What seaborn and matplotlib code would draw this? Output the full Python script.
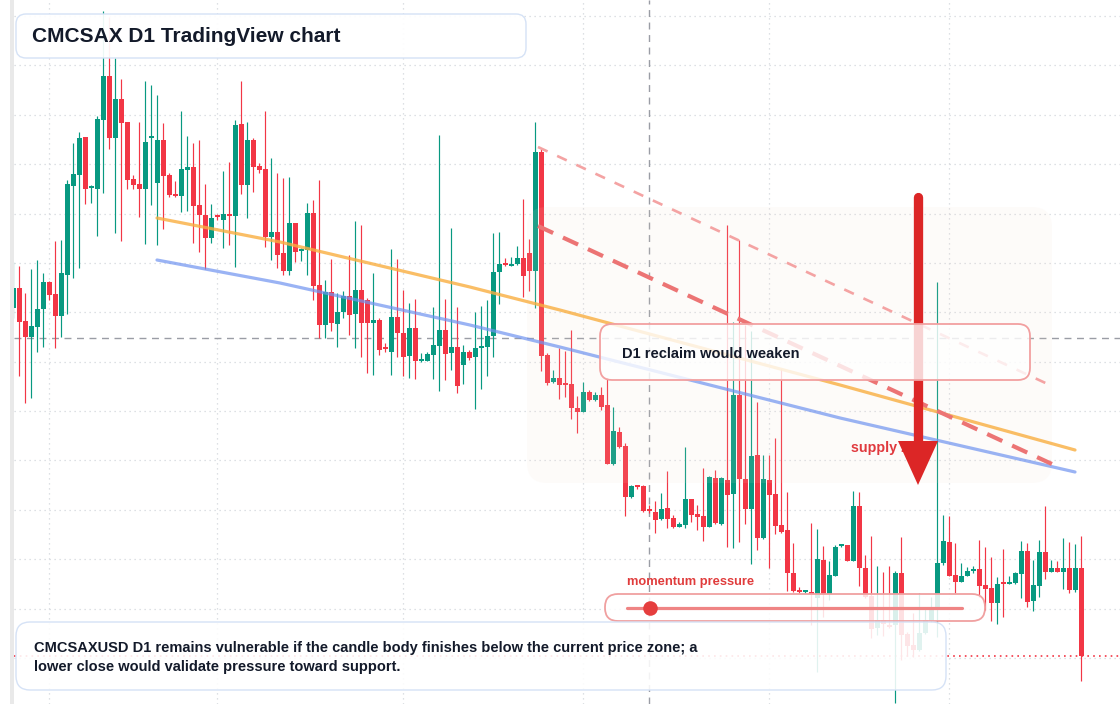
import numpy as np
import pandas as pd
import seaborn as sns
import matplotlib
matplotlib.use("Agg")
from matplotlib import pyplot as plt
from matplotlib import transforms as mtransforms
from matplotlib.patches import FancyBboxPatch, Polygon, Rectangle
from matplotlib.colors import to_rgba

# %% Data (daily candles, arbitrary price units)
opens = [392, 412, 379, 363, 373, 391, 418, 406, 384, 425, 514, 525, 563, 512, 511, 580, 624, 562, 601, 578,
         521, 516, 511, 562, 517, 560, 525, 506, 504, 530, 533, 495, 485, 462, 484, 480, 485, 484, 576, 515,
         560, 534, 531, 463, 468, 447, 429, 477, 449, 450, 487, 415, 375, 408, 376, 388, 404, 386, 410, 400,
         377, 380, 352, 348, 383, 367, 344, 372, 339, 339, 345, 354, 370, 347, 353, 335, 348, 343, 352, 353,
         364, 428, 436, 434, 436, 442, 447, 429, 548, 345, 318, 322, 316, 316, 292, 288, 308, 300, 305, 295,
         236, 268, 254, 203, 214, 214, 190, 188, 181, 192, 182, 173, 175, 201, 186, 184, 173, 222, 176, 220,
         206, 305, 221, 191, 245, 162, 220, 206, 175, 170, 127, 110, 108, 108, 102, 140, 106, 124, 154, 155,
         139, 194, 132, 104, 72, 80, 75, 75, 127, 66, 55, 50, 67, 79, 90, 137, 158, 125, 118, 124,
         129, 131, 115, 112, 97, 117, 116, 117, 126, 149, 99, 114, 148, 128, 132, 128, 132, 110, 132]
highs = [438, 434, 407, 431, 440, 427, 419, 459, 460, 520, 557, 568, 563, 515, 584, 689, 683, 642, 621, 578,
         525, 578, 619, 615, 605, 577, 527, 519, 589, 564, 557, 560, 516, 496, 486, 529, 538, 580, 619, 578,
         562, 537, 589, 542, 527, 522, 523, 477, 452, 497, 500, 520, 420, 441, 407, 409, 445, 479, 475, 402,
         427, 382, 357, 451, 441, 410, 397, 401, 347, 348, 393, 565, 401, 472, 393, 355, 350, 388, 394, 400,
         467, 468, 442, 443, 454, 501, 461, 578, 551, 347, 330, 352, 349, 370, 304, 318, 310, 308, 313, 322,
         293, 273, 257, 215, 215, 215, 195, 199, 207, 229, 185, 178, 253, 201, 195, 232, 224, 230, 223, 475,
         378, 460, 375, 369, 298, 245, 245, 262, 331, 208, 157, 113, 110, 177, 171, 154, 139, 155, 156, 155,
         209, 208, 145, 164, 134, 128, 134, 129, 163, 68, 87, 107, 91, 103, 418, 185, 184, 157, 137, 133,
         134, 160, 153, 143, 123, 151, 124, 128, 159, 157, 140, 160, 194, 140, 139, 162, 158, 156, 164]
lows = [382, 324, 297, 302, 348, 353, 400, 352, 363, 386, 422, 432, 496, 497, 464, 507, 551, 467, 459, 511,
        511, 483, 456, 495, 455, 471, 503, 503, 488, 489, 457, 448, 431, 457, 480, 452, 455, 433, 506, 482,
        508, 527, 453, 440, 432, 425, 425, 438, 439, 425, 400, 362, 362, 369, 353, 382, 365, 352, 343, 327,
        325, 345, 348, 325, 343, 324, 322, 321, 338, 339, 321, 309, 320, 330, 307, 316, 340, 291, 311, 324,
        343, 396, 434, 434, 435, 403, 409, 392, 329, 315, 317, 301, 303, 281, 267, 288, 299, 299, 290, 236,
        235, 252, 184, 202, 211, 188, 187, 167, 180, 172, 172, 173, 172, 178, 170, 159, 173, 176, 175, 153,
        152, 158, 176, 136, 150, 161, 132, 166, 167, 109, 108, 107, 107, 75, 28, 83, 100, 124, 153, 139,
        139, 114, 102, 62, 65, 64, 72, -3, 40, 44, 43, 49, 66, 78, 63, 135, 124, 107, 118, 124,
        127, 103, 90, 79, 76, 83, 116, 116, 102, 93, 89, 103, 121, 128, 128, 111, 107, 108, 19]
closes = [412, 378, 363, 374, 391, 418, 405, 384, 427, 516, 526, 562, 511, 513, 581, 624, 562, 601, 577, 520,
          515, 511, 558, 563, 560, 524, 505, 504, 531, 533, 494, 485, 462, 482, 483, 486, 484, 575, 515, 560,
          533, 530, 463, 468, 445, 429, 477, 448, 450, 487, 414, 375, 408, 377, 388, 404, 385, 410, 377, 377,
          380, 350, 351, 383, 367, 343, 372, 339, 340, 346, 355, 370, 346, 353, 314, 348, 342, 352, 353, 364,
          428, 436, 435, 436, 442, 424, 429, 548, 344, 317, 322, 315, 315, 292, 288, 308, 300, 305, 293, 236,
          269, 253, 203, 214, 213, 189, 189, 180, 191, 181, 173, 176, 201, 185, 183, 173, 223, 177, 222, 205,
          305, 221, 191, 244, 162, 221, 205, 174, 168, 127, 109, 108, 109, 106, 141, 106, 125, 153, 155, 139,
          194, 132, 103, 71, 80, 76, 73, 127, 65, 54, 50, 67, 80, 91, 137, 159, 124, 118, 124, 129,
          131, 114, 111, 97, 116, 116, 117, 127, 149, 98, 115, 148, 128, 132, 128, 132, 110, 132, 44]
first_index = -1

# trend overlays (bar index, price)
orange_x = [22.95, 43.45, 75.1, 90.1, 136.8, 175.95]
orange_y = [482, 458, 413, 390, 315, 250]
blue_x = [22.95, 43.45, 75.1, 90.1, 136.8, 175.95]
blue_y = [440, 417, 375, 353, 282, 228]
upper_dash_x = [86.45, 172.1]
upper_dash_y = [553, 314]
lower_dash_x = [86.45, 172.1]
lower_dash_y = [474, 236]

month_starts = [5, 33, 64, 94, 125, 155]
cross_index = 105
cross_price = 362
last_close = 44

title = "CMCSAX D1 TradingView chart"
note_lines = ["CMCSAXUSD D1 remains vulnerable if the candle body finishes below the current price zone; a",
              "lower close would validate pressure toward support."]
box_label = "D1 reclaim would weaken"
zone_label = "supply zone"
slider_label = "momentum pressure"

# %% Style
sns.set_theme(style="white")
plt.rcParams['font.family'] = ['Liberation Sans', 'DejaVu Sans']

GREEN = "#089981"
RED = "#f23645"
INK = "#131a2a"

df = pd.DataFrame({"o": opens, "h": highs, "l": lows, "c": closes})
df["i"] = np.arange(len(df)) + first_index
df["up"] = df["c"] >= df["o"]
df["col"] = np.where(df["up"], GREEN, RED)

fig = plt.figure(figsize=(11.2, 7.04), dpi=100)
ax = fig.add_axes([14/1120, 0, 1106/1120, 1])
ax.set_xlim(-0.883, 183.45)
ax.set_ylim(-4, 700)
ax.axis("off")

# image pixel transform (x right, y down)
pix = mtransforms.Affine2D().scale(1/100, -1/100).translate(0, 7.04) + fig.dpi_scale_trans

# left strip
fig.patches.append(Rectangle((10, 0), 4, 704, transform=pix, fc="#e9e9e9", ec="none"))

# grid
for p in np.linspace(42, 684, 14):
    ax.axhline(p, color="#d3d6dc", lw=0.9, ls=(0, (1, 3)), zorder=1)
for m in month_starts:
    ax.axvline(m, color="#d3d6dc", lw=0.9, ls=(0, (1, 3)), zorder=1)

# crosshair + last price
ax.axvline(cross_index, color="#9a9da5", lw=1, ls=(0, (5, 4)), zorder=1.5)
ax.axhline(cross_price, color="#9a9da5", lw=1, ls=(0, (5, 4)), zorder=1.5)
ax.axhline(last_close, color=RED, lw=1.2, ls=(0, (1, 2.5)), zorder=1.5)

# candles
ax.vlines(df["i"], df["l"], df["h"], colors=df["col"], lw=0.85, zorder=2)
body = np.maximum((df["c"] - df["o"]).abs(), 1.6)
ax.bar(df["i"], body, bottom=df[["o", "c"]].min(axis=1), width=0.76, color=df["col"],
       edgecolor="none", zorder=2.1)

# supply zone shading
ax.add_patch(FancyBboxPatch((527, 207), 525, 276, boxstyle="round,pad=0,rounding_size=20",
                            transform=pix, fc=to_rgba("#f2ddca", 0.1), ec="none", zorder=2.5))

# trend overlays
sns.lineplot(x=orange_x, y=orange_y, ax=ax, color="#f9ae40", alpha=0.8, lw=2.3, sort=False, zorder=3)
sns.lineplot(x=blue_x, y=blue_y, ax=ax, color="#6f93f0", alpha=0.7, lw=2.3, sort=False, zorder=3)
ax.plot(upper_dash_x, upper_dash_y, color="#f4a3a3", lw=1.9, ls=(0, (4, 4)), zorder=3)
ax.plot(lower_dash_x, lower_dash_y, color="#ec7474", lw=3, ls=(0, (4, 2.6)), zorder=3)

# supply label + arrow
ax.text(851, 448, zone_label, transform=pix, color="#e0393e", fontsize=10.3, fontweight="bold",
        va="center", ha="left", zorder=3.5)
ax.plot([918, 918], [197, 444], transform=pix, color="#dc2626", lw=6.7, solid_capstyle="round", zorder=4)
ax.add_patch(Polygon([(898, 441), (938, 441), (918, 485)], closed=True, transform=pix,
                     fc="#dc2626", ec="none", zorder=4))


def rbox(x0, y0, x1, y1, r, ec, alpha, lw=1.0):
    ax.add_patch(FancyBboxPatch((x0, y0), x1 - x0, y1 - y0, boxstyle=f"round,pad=0,rounding_size={r}",
                                transform=pix, fc=to_rgba("white", alpha), ec=ec, lw=lw,
                                zorder=5, clip_on=False))


# title box
rbox(16, 14, 526, 58, 10, "#d5e2f6", 0.93)
ax.text(32, 36.5, title, transform=pix, color=INK, fontsize=15, fontweight="bold",
        va="center", ha="left", zorder=6)

# reclaim box
rbox(600, 324, 1030, 380, 12, "#f2a0a0", 0.8, lw=1.3)
ax.text(622, 353.5, box_label, transform=pix, color=INK, fontsize=10.5, fontweight="bold",
        va="center", ha="left", zorder=6)

# momentum slider
rbox(605, 594, 985, 621, 13, "#f0a0a0", 0.85, lw=1.3)
ax.plot([627, 962], [607.5, 607.5], transform=pix, color="#ef8484", lw=2.3, zorder=5.5)
ax.plot([650], [607.5], transform=pix, marker="o", ms=10.5, color="#e53e3e", mec="none", zorder=5.6)
ax.text(627, 582.5, slider_label, transform=pix, color="#e03c3c", fontsize=9.3, fontweight="bold",
        va="center", ha="left", zorder=6)

# bottom note
rbox(16, 622, 946, 690, 14, "#d5e2f6", 0.88)
for k, line in enumerate(note_lines):
    ax.text(34, 648 + 19.5 * k, line, transform=pix, color=INK, fontsize=10.5, fontweight="bold",
            va="center", ha="left", zorder=6)

plt.savefig("out.png", dpi=100)
plt.close()
